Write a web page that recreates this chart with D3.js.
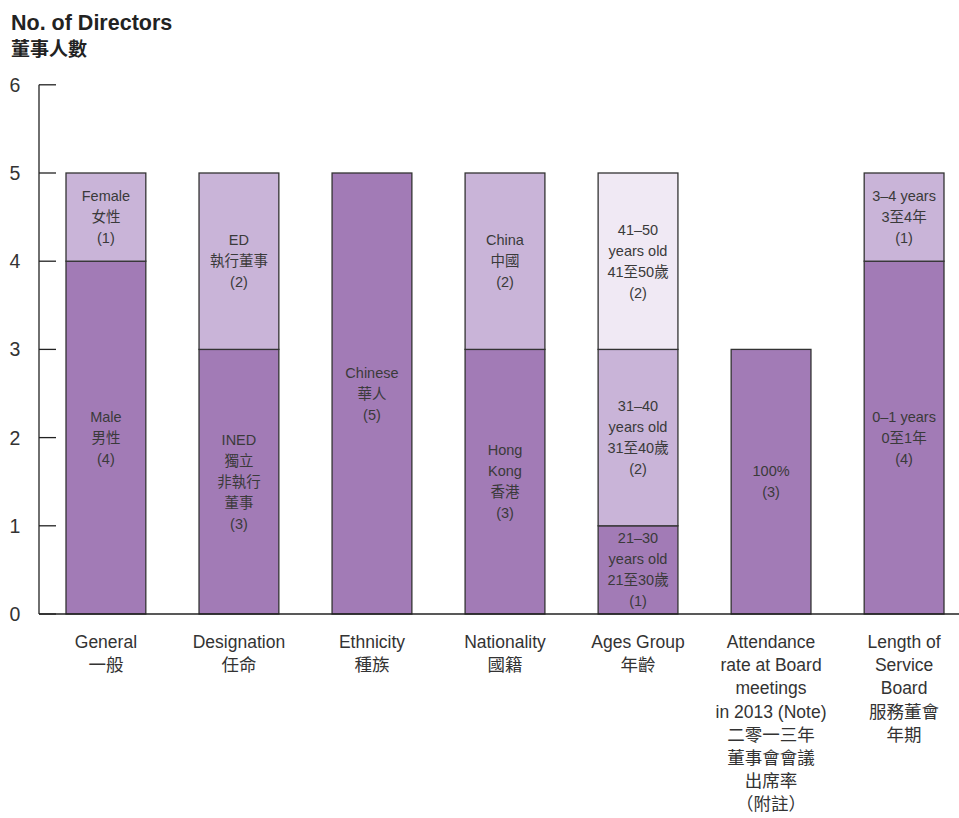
<!DOCTYPE html>
<html>
<head>
<meta charset="utf-8">
<script src="https://cdn.jsdelivr.net/npm/d3@7"></script>
<style>
  body { margin: 0; background: #fff; }
  text { font-family: "Liberation Sans", Arial, "Noto Sans CJK TC", sans-serif; }
</style>
</head>
<body>
<div class="canvas"></div>
<script>
// categories along the x axis
const categories = ['General', 'Designation', 'Ethnicity', 'Nationality', 'Ages Group', 'Attendance', 'Length']
const categoryLabels = [
    ['General', '一般'],
    ['Designation', '任命'],
    ['Ethnicity', '種族'],
    ['Nationality', '國籍'],
    ['Ages Group', '年齡'],
    ['Attendance', 'rate at Board', 'meetings', 'in 2013 (Note)', '二零一三年', '董事會會議', '出席率', '（附註）'],
    ['Length of', 'Service', 'Board', '服務董會', '年期']
]

// stacked layers (bottom -> top)
const layer1 = [4, 3, 5, 3, 1, 3, 4]
const layer2 = [1, 2, 0, 2, 2, 0, 1]
const layer3 = [0, 0, 0, 0, 2, 0, 0]

const layer1Labels = [
    ['Male', '男性', '(4)'],
    ['INED', '獨立', '非執行', '董事', '(3)'],
    ['Chinese', '華人', '(5)'],
    ['Hong', 'Kong', '香港', '(3)'],
    ['21–30', 'years old', '21至30歲', '(1)'],
    ['100%', '(3)'],
    ['0–1 years', '0至1年', '(4)']
]
const layer2Labels = [
    ['Female', '女性', '(1)'],
    ['ED', '執行董事', '(2)'],
    [],
    ['China', '中國', '(2)'],
    ['31–40', 'years old', '31至40歲', '(2)'],
    [],
    ['3–4 years', '3至4年', '(1)']
]
const layer3Labels = [[], [], [], [], ['41–50', 'years old', '41至50歲', '(2)'], [], []]

const yTicks = [0, 1, 2, 3, 4, 5, 6]

const layerKeys = ['l1', 'l2', 'l3']
const layerColors = ['#a27bb6', '#c9b4d8', '#f0e9f4']
const layerLabels = [layer1Labels, layer2Labels, layer3Labels]

const rows = categories.map((c, i) => ({ cat: c, l1: layer1[i], l2: layer2[i], l3: layer3[i] }))

const W = 959, H = 818
const svg = d3.select('.canvas')
    .append('svg')
    .attr('width', W)
    .attr('height', H)

const x0 = 39
const y = d3.scaleLinear()
    .domain([0, 5])
    .range([614, 173])

const x = d3.scaleBand()
    .domain(categories)
    .range([x0, 971])
    .paddingInner(0.4)
    .paddingOuter(0.203)

const stack = d3.stack().keys(layerKeys)
const series = stack(rows)

// title
svg.append('text')
    .attr('x', 11).attr('y', 30)
    .attr('font-size', 21.5).attr('font-weight', 'bold').attr('fill', '#222')
    .text('No. of Directors')
svg.append('text')
    .attr('x', 11).attr('y', 56)
    .attr('font-size', 19).attr('font-weight', 'bold').attr('fill', '#222')
    .text('董事人數')

// bars
series.forEach((s, li) => {
    svg.append('g')
        .selectAll('rect')
        .data(s.filter(d => d[1] > d[0]))
        .enter()
        .append('rect')
        .attr('x', d => x(d.data.cat))
        .attr('width', x.bandwidth())
        .attr('y', d => y(d[1]))
        .attr('height', d => y(d[0]) - y(d[1]))
        .attr('fill', layerColors[li])
        .attr('stroke', '#333')
        .attr('stroke-width', 1.3)
})

// segment labels
const lineH = 21
series.forEach((s, li) => {
    s.forEach((d, i) => {
        const lines = layerLabels[li][i]
        if (!lines.length || d[1] <= d[0]) return
        const cx = x(d.data.cat) + x.bandwidth() / 2
        const cy = (y(d[0]) + y(d[1])) / 2
        const top = cy - (lines.length - 1) * lineH / 2
        const t = svg.append('text')
            .attr('text-anchor', 'middle')
            .attr('font-size', 14.5)
            .attr('fill', '#3a3a3a')
        lines.forEach((ln, k) => {
            t.append('tspan')
                .attr('x', cx)
                .attr('y', top + k * lineH + 5)
                .text(ln)
        })
    })
})

// y axis
svg.append('line')
    .attr('x1', x0).attr('x2', x0)
    .attr('y1', y(6)).attr('y2', y(0))
    .attr('stroke', '#222').attr('stroke-width', 1.3)
svg.append('g')
    .selectAll('line')
    .data(yTicks)
    .enter()
    .append('line')
    .attr('x1', x0).attr('x2', x0 + 17)
    .attr('y1', d => y(d)).attr('y2', d => y(d))
    .attr('stroke', '#222').attr('stroke-width', 1.3)
svg.append('g')
    .selectAll('text')
    .data(yTicks)
    .enter()
    .append('text')
    .attr('x', 15)
    .attr('y', d => y(d) + 7)
    .attr('text-anchor', 'middle')
    .attr('font-size', 19.5)
    .attr('fill', '#333')
    .text(d => d)

// x axis baseline
svg.append('line')
    .attr('x1', x0).attr('x2', W)
    .attr('y1', y(0)).attr('y2', y(0))
    .attr('stroke', '#222').attr('stroke-width', 1.3)

// category labels
categories.forEach((c, i) => {
    const t = svg.append('text')
        .attr('text-anchor', 'middle')
        .attr('font-size', 17.5)
        .attr('fill', '#333')
    categoryLabels[i].forEach((ln, k) => {
        t.append('tspan')
            .attr('x', x(c) + x.bandwidth() / 2)
            .attr('y', 648 + k * 23.2)
            .text(ln)
    })
})
</script>
</body>
</html>
